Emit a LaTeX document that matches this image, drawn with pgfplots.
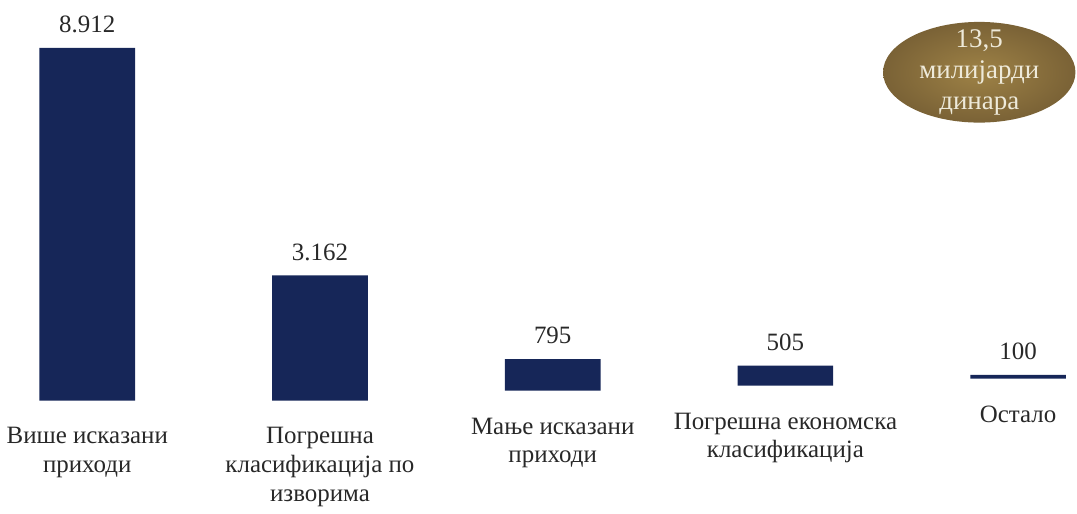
\documentclass[border=0pt]{standalone}
\usepackage{pgfplots}
\pgfplotsset{compat=1.18}
\usepackage{pgfplotstable}
\usetikzlibrary{shapes.geometric}
\usepackage{fontspec}
\setmainfont{Liberation Serif}
\definecolor{barblue}{RGB}{22,38,88}
\definecolor{goldA}{RGB}{158,130,70}
\definecolor{goldB}{RGB}{122,98,54}
\definecolor{txt}{RGB}{40,40,40}
\definecolor{etxt}{RGB}{238,234,218}

\pgfplotstableread{
x base val lab
0 0 8912 8.912
1 0 3162 3.162
2 252 795 795
3 378 505 505
4 554 100 100
}\data

\begin{document}
\begin{tikzpicture}
\begin{axis}[
  scale only axis, width=538.5pt, height=249.5pt,
  xmin=-0.36, xmax=4.253, ymin=-2442, ymax=10119,
  hide axis, clip=false,
  ybar stacked, bar width=0.411,
]
\path (rel axis cs:0,0) rectangle (rel axis cs:1,1);
\addplot[draw=none, fill=none] table[x=x,y=base]{\data};
\addplot[fill=barblue, draw=none, nodes near coords, point meta=explicit symbolic,
  visualization depends on={\thisrow{val} \as \barval},
  every node near coord/.style={font=\fontsize{12.5}{14}\selectfont, text=txt, anchor=south,
    yshift={\barval*0.0099323pt+4pt}}]
  table[x=x,y=val,meta=lab]{\data};

\tikzset{cat/.style={anchor=north, align=center, text=txt, yshift=-10pt, font=\fontsize{12.5}{14.5}\selectfont}}
\node[cat] at (axis cs:0,0) {Више исказани\\приходи};
\node[cat] at (axis cs:1,0) {Погрешна\\класификација по\\изворима};
\node[cat] at (axis cs:2,252) {Мање исказани\\приходи};
\node[cat] at (axis cs:3,378) {Погрешна економска\\класификација};
\node[cat] at (axis cs:4,554) {Остало};

\node[ellipse, minimum width=96.5pt, minimum height=50.5pt, inner xsep=-10pt, inner ysep=-18pt,
  inner color=goldA, outer color=goldB, text=etxt,
  font=\fontsize{13.5}{15.5}\selectfont] at (axis cs:3.833,8294)
  {\begin{tabular}{@{}c@{}}13,5\\милијарди\\динара\end{tabular}};
\end{axis}
\end{tikzpicture}
\end{document}
